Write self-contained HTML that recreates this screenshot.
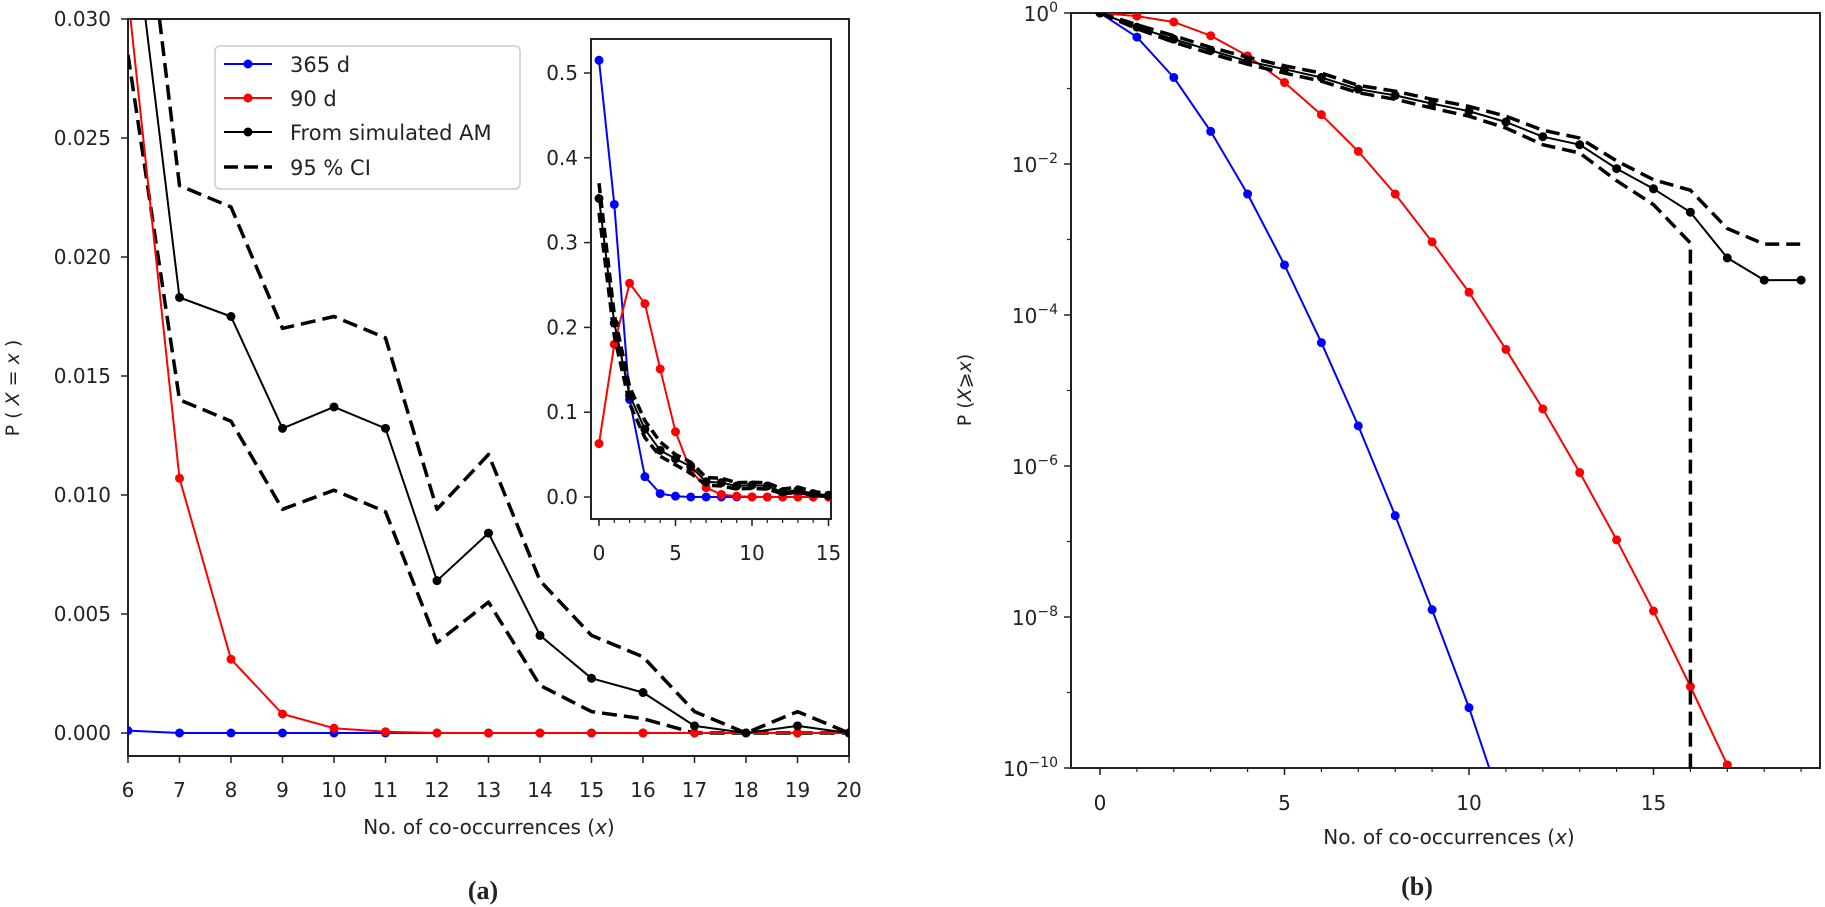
<!DOCTYPE html>
<html><head><meta charset="utf-8"><style>
html,body{margin:0;background:#fff;overflow:hidden;width:1825px;height:907px}
svg{display:block}
text{font-family:"DejaVu Sans","Liberation Sans",sans-serif;fill:#222}
</style></head><body>
<svg id="svg" width="1825" height="907" viewBox="0 0 1825 907" xmlns="http://www.w3.org/2000/svg">
<defs>
<clipPath id="clipA"><rect x="128" y="19" width="721" height="737"/></clipPath>
<clipPath id="clipI"><rect x="591" y="39" width="240" height="480"/></clipPath>
<clipPath id="clipB"><rect x="1071" y="13" width="749" height="755"/></clipPath>
</defs>
<g id="gA"></g>
<g id="gI"></g>
<g id="gB"></g>
<text x="489" y="834" font-size="20" text-anchor="middle">No. of co-occurrences (<tspan font-style="italic">x</tspan>)</text>
<text transform="translate(19,388) rotate(-90)" font-size="19" text-anchor="middle">P ( <tspan font-style="italic">X</tspan> = <tspan font-style="italic">x</tspan> )</text>
<text x="483" y="899" font-size="26" font-weight="bold" text-anchor="middle" style="font-family:'Liberation Serif',serif">(a)</text>
<text x="1449" y="844" font-size="20" text-anchor="middle">No. of co-occurrences (<tspan font-style="italic">x</tspan>)</text>
<text transform="translate(971,390) rotate(-90)" font-size="19" text-anchor="middle">P (<tspan font-style="italic">X</tspan>⩾<tspan font-style="italic">x</tspan>)</text>
<text x="1417" y="895" font-size="26" font-weight="bold" text-anchor="middle" style="font-family:'Liberation Serif',serif">(b)</text>
<g>
<rect x="215" y="46" width="305" height="143" rx="5" fill="#fff" stroke="#ccc" stroke-width="1.5"/>
<line x1="224" y1="64" x2="272" y2="64" stroke="#0000ff" stroke-width="2"/><circle cx="248" cy="64" r="4.5" fill="#0000ff"/>
<text x="290" y="72" font-size="21">365 d</text>
<line x1="224" y1="98" x2="272" y2="98" stroke="#ff0000" stroke-width="2"/><circle cx="248" cy="98" r="4.5" fill="#ff0000"/>
<text x="290" y="106" font-size="21">90 d</text>
<line x1="224" y1="132" x2="272" y2="132" stroke="#000" stroke-width="2"/><circle cx="248" cy="132" r="4.5" fill="#000"/>
<text x="290" y="140" font-size="21">From simulated AM</text>
<line x1="224" y1="167" x2="272" y2="167" stroke="#000" stroke-width="3.5" stroke-dasharray="14,6"/>
<text x="290" y="175" font-size="21">95 % CI</text>
</g>
</svg>
<script>
// Panel (a) data, x = 6..20
const xsA = [6,7,8,9,10,11,12,13,14,15,16,17,18,19,20];
const a365 = [0.0001,0,0,0,0,0,0,0,0,0,0,0,0,0,0];
const a90 = [0.031,0.0107,0.0031,0.0008,0.0002,0.00005,0,0,0,0,0,0,0,0,0];
const aAM = [0.036,0.0183,0.0175,0.0128,0.0137,0.0128,0.0064,0.0084,0.0041,0.0023,0.0017,0.0003,0,0.0003,0];
const aUp = [0.041,0.023,0.0221,0.017,0.0175,0.0166,0.0094,0.0117,0.0064,0.0041,0.0032,0.0009,0,0.0009,0];
const aLo = [0.0285,0.014,0.0131,0.0094,0.0102,0.0093,0.0038,0.0055,0.002,0.0009,0.0006,0,0,0,0];
const aYTicks = ["0.000","0.005","0.010","0.015","0.020","0.025","0.030"];
// Inset data, x = 0..15
const xsI = [0,1,2,3,4,5,6,7,8,9,10,11,12,13,14,15];
const i365 = [0.515,0.345,0.115,0.024,0.004,0.001,0,0,0,0,0,0,0,0,0,0];
const i90 = [0.063,0.18,0.252,0.228,0.151,0.077,0.031,0.011,0.003,0.001,0.0002,0,0,0,0,0];
const iAM = [0.352,0.205,0.12,0.08,0.055,0.045,0.036,0.018,0.017,0.013,0.014,0.013,0.006,0.008,0.004,0.002];
const iUp = [0.37,0.215,0.13,0.09,0.065,0.05,0.041,0.023,0.022,0.017,0.0175,0.0166,0.0094,0.0117,0.0064,0.0041];
const iLo = [0.335,0.19,0.11,0.07,0.048,0.038,0.028,0.014,0.013,0.0094,0.0102,0.0093,0.0038,0.0055,0.002,0.0009];
const iYTicks = ["0.0","0.1","0.2","0.3","0.4","0.5"];
// Panel (b) data, x = 0..19
const xsB = [0,1,2,3,4,5,6,7,8,9,10,11,12,13,14,15,16,17,18,19];
const b365 = [1,0.48,0.14,0.027,0.004,4.6e-4,4.3e-5,3.4e-6,2.2e-7,1.25e-8,6.3e-10,2.2e-11];
const b90 = [1,0.91,0.76,0.5,0.27,0.12,0.045,0.0147,0.004,9.3e-4,2e-4,3.5e-5,5.7e-6,8.2e-7,1.05e-7,1.2e-8,1.2e-9,1.1e-10,1e-11];
const bAM = [1,0.65,0.45,0.32,0.23,0.18,0.14,0.098,0.081,0.063,0.05,0.036,0.023,0.018,0.0087,0.0047,0.0023,5.7e-4,2.9e-4,2.9e-4];
const bUp = [1,0.7,0.5,0.35,0.26,0.2,0.16,0.11,0.092,0.072,0.058,0.043,0.028,0.022,0.011,0.0062,0.0045,0.0014,8.7e-4,8.7e-4];
const bLo = [1,0.62,0.41,0.29,0.21,0.16,0.125,0.088,0.072,0.055,0.043,0.03,0.018,0.014,0.006,0.0029,9e-4,1e-14];
const bXTicks = [0,5,10,15];
const bYExp = [0,-2,-4,-6,-8,-10];

const NS="http://www.w3.org/2000/svg";
function mk(tag,attrs,parent){const e=document.createElementNS(NS,tag);for(const k in attrs)e.setAttribute(k,attrs[k]);parent.appendChild(e);return e;}
function pathD(xs,ys,fx,fy){return xs.slice(0,ys.length).map((x,i)=>(i?'L':'M')+fx(x).toFixed(1)+','+fy(ys[i]).toFixed(1)).join(' ');}

function series(g,xs,ys,fx,fy,color,clip,name,dash,marker,w){
  const p=mk('path',{d:pathD(xs,ys,fx,fy),fill:'none',stroke:color,'stroke-width':w,'clip-path':clip,'stroke-linejoin':'round'},g);
  if(dash)p.setAttribute('stroke-dasharray',dash);
  
  
  if(marker){const mg=mk('g',{'clip-path':clip},g);ys.forEach((v,i)=>{const c=mk('circle',{cx:fx(xs[i]),cy:fy(v),r:4.5,fill:color},mg);
    
    });}
}

// ---- Panel A
const gA=document.getElementById('gA');
const fxA=x=>128+(x-6)*51.5, fyA=v=>733-v*23800;
mk('rect',{x:128,y:19,width:721,height:737,fill:'none',stroke:'#222','stroke-width':2},gA);
aYTicks.forEach(t=>{const y=fyA(+t);mk('line',{x1:121,y1:y,x2:128,y2:y,stroke:'#222','stroke-width':1.5},gA);
  const tx=mk('text',{x:111,y:y+7,'font-size':20,'text-anchor':'end'},gA);tx.textContent=t;
  
  });
xsA.forEach(x=>{const X=fxA(x);mk('line',{x1:X,y1:756,x2:X,y2:763,stroke:'#222','stroke-width':1.5},gA);
  const tx=mk('text',{x:X,y:797,'font-size':20,'text-anchor':'middle'},gA);tx.textContent=x;
  
  });
series(gA,xsA,aUp,fxA,fyA,'#000','url(#clipA)','ci-upper-a','15,7',false,3.5);
series(gA,xsA,aLo,fxA,fyA,'#000','url(#clipA)','ci-lower-a','15,7',false,3.5);
series(gA,xsA,a365,fxA,fyA,'#0000ff','url(#clipA)','series-365d-a','',true,2);
series(gA,xsA,a90,fxA,fyA,'#ff0000','url(#clipA)','series-90d-a','',true,2);
series(gA,xsA,aAM,fxA,fyA,'#000','url(#clipA)','series-am-a','',true,2);

// ---- Inset
const gI=document.getElementById('gI');
const fxI=x=>599+x*15.3, fyI=v=>497-v*848;
mk('rect',{x:591,y:39,width:240,height:480,fill:'#fff',stroke:'#222','stroke-width':2},gI);
iYTicks.forEach(t=>{const y=fyI(+t);mk('line',{x1:584,y1:y,x2:591,y2:y,stroke:'#222','stroke-width':1.5},gI);
  const tx=mk('text',{x:578,y:y+7,'font-size':20,'text-anchor':'end'},gI);tx.textContent=t;
  
  });
xsI.forEach(x=>{const X=fxI(x);mk('line',{x1:X,y1:519,x2:X,y2:523,stroke:'#222','stroke-width':1.2},gI);});
[0,5,10,15].forEach(x=>{const X=fxI(x);mk('line',{x1:X,y1:519,x2:X,y2:526,stroke:'#222','stroke-width':1.5},gI);
  const tx=mk('text',{x:X,y:560,'font-size':20,'text-anchor':'middle'},gI);tx.textContent=x;
  
  });
series(gI,xsI,i365,fxI,fyI,'#0000ff','url(#clipI)','series-365d-inset','',true,2);
series(gI,xsI,i90,fxI,fyI,'#ff0000','url(#clipI)','series-90d-inset','',true,2);
series(gI,xsI,iUp,fxI,fyI,'#000','url(#clipI)','ci-upper-inset','10,5',false,3.5);
series(gI,xsI,iLo,fxI,fyI,'#000','url(#clipI)','ci-lower-inset','10,5',false,3.5);
series(gI,xsI,iAM,fxI,fyI,'#000','url(#clipI)','series-am-inset','',true,2);

// ---- Panel B
const gB=document.getElementById('gB');
const DEC=75.5;
const fxB=x=>1100+x*36.9, fyB=v=>13-Math.log10(v)*DEC;
mk('rect',{x:1071,y:13,width:749,height:755,fill:'none',stroke:'#222','stroke-width':2},gB);
bYExp.forEach(e=>{const y=13-e*DEC;mk('line',{x1:1064,y1:y,x2:1071,y2:y,stroke:'#222','stroke-width':1.5},gB);
  const tx=mk('text',{x:1058,y:y+8,'font-size':20,'text-anchor':'end'},gB);
  
  
  const a=document.createElementNS(NS,'tspan');a.textContent='10';tx.appendChild(a);
  const s=document.createElementNS(NS,'tspan');s.setAttribute('dy','-9');s.setAttribute('font-size','14');s.textContent=(e<0?'\u2212'+(-e):e);tx.appendChild(s);});
[-1,-3,-5,-7,-9].forEach(e=>{const y=13-e*DEC;mk('line',{x1:1067,y1:y,x2:1071,y2:y,stroke:'#222','stroke-width':1.2},gB);});
xsB.forEach(x=>{const X=fxB(x);mk('line',{x1:X,y1:768,x2:X,y2:772,stroke:'#222','stroke-width':1.2},gB);});
bXTicks.forEach(x=>{const X=fxB(x);mk('line',{x1:X,y1:768,x2:X,y2:775,stroke:'#222','stroke-width':1.5},gB);
  const tx=mk('text',{x:X,y:810,'font-size':20,'text-anchor':'middle'},gB);tx.textContent=x;
  
  });
series(gB,xsB,b365,fxB,fyB,'#0000ff','url(#clipB)','series-365d-b','',true,2);
series(gB,xsB,b90,fxB,fyB,'#ff0000','url(#clipB)','series-90d-b','',true,2);
series(gB,xsB,bUp,fxB,fyB,'#000','url(#clipB)','ci-upper-b','14,7',false,3.5);
series(gB,xsB,bLo,x=>fxB(Math.min(x,16)),fyB,'#000','url(#clipB)','ci-lower-b','14,7',false,3.5);
series(gB,xsB,bAM,fxB,fyB,'#000','url(#clipB)','series-am-b','',true,2);
</script>
</body></html>
